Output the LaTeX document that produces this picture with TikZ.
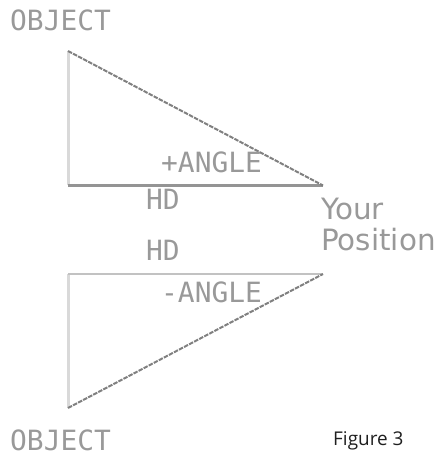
\documentclass[tikz,border=0pt]{standalone}
\usepackage{fontspec}
\newfontfamily\pixfont{DejaVu Sans Mono}
\newfontfamily\propfont{DejaVu Sans}
\newfontfamily\capfont{Open Sans}
\tikzset{
  x=1bp,y=-1bp,
  lbl/.style={inner sep=0pt,anchor=base west,text=black!40,font=\pixfont\fontsize{28}{28}\selectfont},
  prop/.style={lbl,font=\propfont\fontsize{29.5}{29.5}\selectfont},
  figcap/.style={inner sep=0pt,anchor=base west,text=black!88,font=\capfont\fontsize{19}{19}\selectfont},
  vert/.style={draw=black!15,line width=3bp},
  horiz/.style={draw=black!42,line width=3bp},
  horizb/.style={draw=black!24,line width=2.6bp},
  hyp/.style={draw=black!50,line width=2bp,dash pattern=on 4.5bp off 1.2bp},
}
\begin{document}
\begin{tikzpicture}
\useasboundingbox (0,0) rectangle (437,456);
\coordinate (a1) at (68,51);
\coordinate (b1) at (68,185.5);
\coordinate (c1) at (323,185.5);
\coordinate (a2) at (68,408);
\coordinate (b2) at (68,274);
\coordinate (c2) at (323,274);
\draw[vert] (a1) -- (b1);
\draw[horiz] (b1) -- (c1);
\draw[hyp] (a1) -- (c1);
\draw[vert] (a2) -- (b2);
\draw[horizb] (b2) -- (c2);
\draw[hyp] (a2) -- (c2);
\node[lbl] (obj1) at (10,31) {OBJECT};
\node[lbl] (plus) at (161,173) {+ANGLE};
\node[lbl] (hd1) at (146,210) {HD};
\node[prop] (your) at (321,220) {Your};
\node[prop] (pos) at (321,250) {Position};
\node[lbl] (hd2) at (146,260) {HD};
\node[lbl] (minus) at (161,302) {-ANGLE};
\node[lbl] (obj2) at (10,450) {OBJECT};
\node[figcap] (fig) at (333,445) {Figure 3};
\end{tikzpicture}
\end{document}
